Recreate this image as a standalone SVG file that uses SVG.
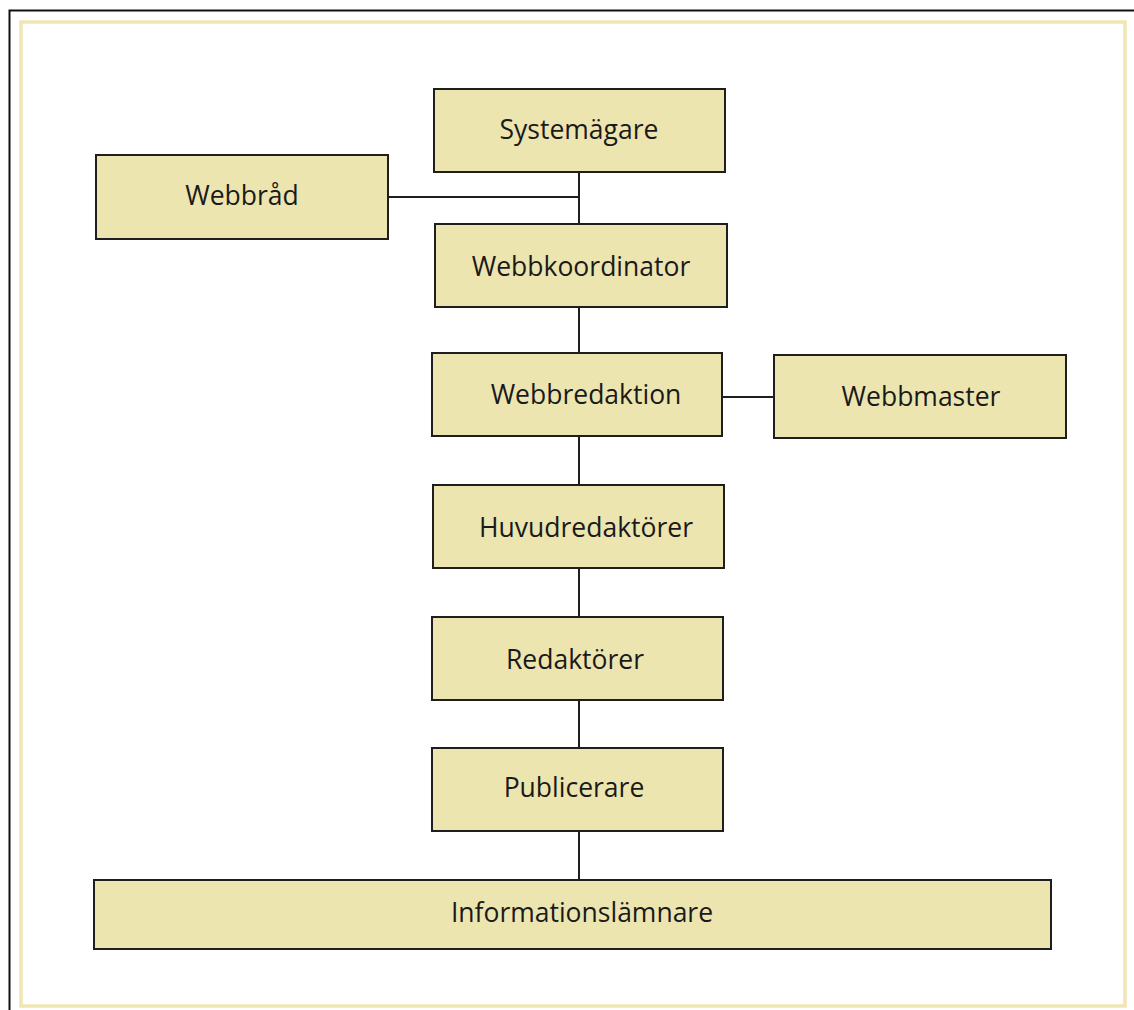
<svg xmlns="http://www.w3.org/2000/svg" width="1134" height="1010" viewBox="0 0 1134 1010">
<style>
.box{fill:#EDE5B0;stroke:#1e1e1e;stroke-width:2}
.lbl{font-family:"Open Sans","Liberation Sans",sans-serif;font-size:26.5px;fill:#1a1a1a;text-anchor:middle;dominant-baseline:central}
.con{stroke:#1e1e1e;stroke-width:2;fill:none}
</style>
<rect x="0" y="0" width="1134" height="1010" fill="#ffffff"/>
<path d="M9.5 1010 V10.5 H1134" fill="none" stroke="#111" stroke-width="2"/>
<rect x="21" y="22" width="1104" height="984" fill="none" stroke="#EFE6B4" stroke-width="3.5"/>
<g id="connectors">
<line class="con" x1="579" y1="172" x2="579" y2="224"/>
<line class="con" x1="388" y1="197" x2="579" y2="197"/>
<line class="con" x1="579" y1="307" x2="579" y2="353"/>
<line class="con" x1="722" y1="397" x2="774" y2="397"/>
<line class="con" x1="579" y1="436" x2="579" y2="485"/>
<line class="con" x1="579" y1="568" x2="579" y2="617"/>
<line class="con" x1="579" y1="700" x2="579" y2="748"/>
<line class="con" x1="579" y1="831" x2="579" y2="880"/>
</g>
<g id="systemagare"><rect class="box" x="434" y="89" width="291" height="83"/><text class="lbl" x="579" y="129">Systemägare</text></g>
<g id="webbrad"><rect class="box" x="96" y="155" width="292" height="84"/><text class="lbl" x="242" y="195">Webbråd</text></g>
<g id="webbkoordinator"><rect class="box" x="435" y="224" width="292" height="83"/><text class="lbl" x="581" y="266">Webbkoordinator</text></g>
<g id="webbredaktion"><rect class="box" x="432" y="353" width="290" height="83"/><text class="lbl" x="586" y="394">Webbredaktion</text></g>
<g id="webbmaster"><rect class="box" x="774" y="355" width="292" height="83"/><text class="lbl" x="921" y="396">Webbmaster</text></g>
<g id="huvudredaktorer"><rect class="box" x="433" y="485" width="291" height="83"/><text class="lbl" x="586" y="527">Huvudredaktörer</text></g>
<g id="redaktorer"><rect class="box" x="432" y="617" width="291" height="83"/><text class="lbl" x="575" y="659">Redaktörer</text></g>
<g id="publicerare"><rect class="box" x="432" y="748" width="291" height="83"/><text class="lbl" x="574" y="787">Publicerare</text></g>
<g id="informationslamnare"><rect class="box" x="94" y="880" width="957" height="69"/><text class="lbl" x="582" y="912">Informationslämnare</text></g>
</svg>
